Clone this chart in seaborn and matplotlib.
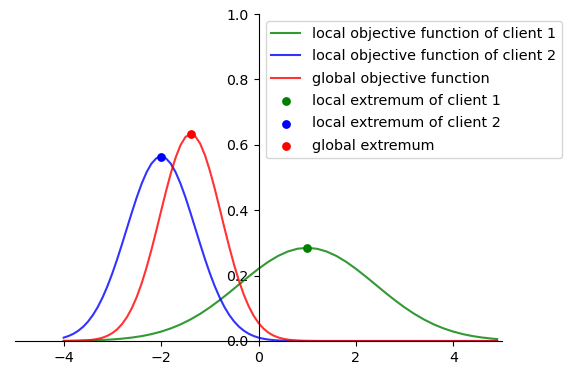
import matplotlib
matplotlib.use("Agg")
import matplotlib.pyplot as plt
import seaborn as sns

# client 1 (broad curve) sampled every 0.2
x_c1 = [-4.0, -3.8, -3.6, -3.4, -3.2, -3.0, -2.8, -2.6, -2.4, -2.2,
        -2.0, -1.8, -1.6, -1.4, -1.2, -1.0, -0.8, -0.6, -0.4, -0.2,
        0.0, 0.2, 0.4, 0.6, 0.8, 1.0, 1.2, 1.4, 1.6, 1.8,
        2.0, 2.2, 2.4, 2.6, 2.8, 3.0, 3.2, 3.4, 3.6, 3.8,
        4.0, 4.2, 4.4, 4.6, 4.8, 4.9]
client1_vals = [0.0005, 0.0008, 0.0013, 0.0020, 0.0032, 0.0048, 0.0072, 0.0105, 0.0149, 0.0209,
                0.0287, 0.0386, 0.0508, 0.0656, 0.0829, 0.1027, 0.1247, 0.1483, 0.1729, 0.1974,
                0.2208, 0.2421, 0.2600, 0.2736, 0.2821, 0.2850, 0.2821, 0.2736, 0.2600, 0.2421,
                0.2208, 0.1974, 0.1729, 0.1483, 0.1247, 0.1027, 0.0829, 0.0656, 0.0508, 0.0386,
                0.0287, 0.0209, 0.0149, 0.0105, 0.0072, 0.0059]

# client 2 and global (narrow curves) sampled every 0.1 where non-zero
x_narrow = [-4.0, -3.9, -3.8, -3.7, -3.6, -3.5, -3.4, -3.3, -3.2, -3.1,
            -3.0, -2.9, -2.8, -2.7, -2.6, -2.5, -2.4, -2.3, -2.2, -2.1,
            -2.0, -1.9, -1.8, -1.7, -1.6, -1.5, -1.4, -1.3, -1.2, -1.1,
            -1.0, -0.9, -0.8, -0.7, -0.6, -0.5, -0.4, -0.3, -0.2, -0.1,
            0.0, 0.1, 0.2, 0.3, 0.4, 0.5, 0.6, 0.7, 0.8, 0.9,
            1.0, 1.1, 1.2, 1.3, 1.4, 2.0, 3.0, 4.0, 4.9]
client2_vals = [0.0103, 0.0153, 0.0221, 0.0314, 0.0436, 0.0595, 0.0795, 0.1041, 0.1337, 0.1682,
                0.2076, 0.2510, 0.2975, 0.3456, 0.3936, 0.4394, 0.4808, 0.5156, 0.5421, 0.5586,
                0.5642, 0.5586, 0.5421, 0.5156, 0.4808, 0.4394, 0.3936, 0.3456, 0.2975, 0.2510,
                0.2076, 0.1682, 0.1337, 0.1041, 0.0795, 0.0595, 0.0436, 0.0314, 0.0221, 0.0153,
                0.0103, 0.0069, 0.0045, 0.0028, 0.0018, 0.0011, 0.0007, 0.0004, 0.0002, 0.0001,
                0.0001, 0.0, 0.0, 0.0, 0.0, 0.0, 0.0, 0.0, 0.0]
global_vals = [0.0001, 0.0002, 0.0004, 0.0008, 0.0014, 0.0023, 0.0039, 0.0065, 0.0103, 0.0161,
               0.0244, 0.0361, 0.0521, 0.0734, 0.1007, 0.1348, 0.1760, 0.2241, 0.2781, 0.3367,
               0.3974, 0.4574, 0.5132, 0.5617, 0.5994, 0.6238, 0.6329, 0.6263, 0.6043, 0.5686,
               0.5216, 0.4667, 0.4071, 0.3463, 0.2873, 0.2324, 0.1833, 0.1410, 0.1057, 0.0773,
               0.0552, 0.0383, 0.0260, 0.0172, 0.0111, 0.0070, 0.0043, 0.0026, 0.0015, 0.0008,
               0.0005, 0.0003, 0.0001, 0.0001, 0.0, 0.0, 0.0, 0.0, 0.0]

extrema_x = [1.0, -2.0, -1.392]
extrema_y = [0.285, 0.5642, 0.633]

line_labels = ["local objective function of client 1",
               "local objective function of client 2",
               "global objective function"]
point_labels = ["local extremum of client 1",
                "local extremum of client 2",
                "global extremum"]
colors = ["green", "blue", "red"]
x_ticks = [-4, -2, 0, 2, 4]
y_ticks = [0.0, 0.2, 0.4, 0.6, 0.8, 1.0]

W, H = 571, 375
DPI = 100
fig = plt.figure(figsize=(W / DPI, H / DPI), dpi=DPI)
ax = fig.add_axes([15 / W, 1 - 341 / H, 487 / W, 327 / H])

series = [(x_c1, client1_vals), (x_narrow, client2_vals), (x_narrow, global_vals)]
for (xs, ys), lab, c in zip(series, line_labels, colors):
    sns.lineplot(x=xs, y=ys, ax=ax, color=c, alpha=0.8, linewidth=1.5,
                 label=lab, estimator=None, sort=False)

for xv, yv, lab, c in zip(extrema_x, extrema_y, point_labels, colors):
    sns.scatterplot(x=[xv], y=[yv], ax=ax, color=c, s=40, linewidth=0, label=lab, zorder=3)

ax.set_xlim(-5, 5)
ax.set_ylim(0, 1)
ax.set_xlabel("")
ax.set_ylabel("")
ax.spines["left"].set_position(("data", 0))
ax.spines["bottom"].set_position(("data", 0))
ax.spines["top"].set_visible(False)
ax.spines["right"].set_visible(False)
ax.set_xticks(x_ticks)
ax.set_yticks(y_ticks)
ax.tick_params(labelsize=10.2)

ax.legend(loc="upper left", bbox_to_anchor=(0.5, 1.0), fontsize=10.35, labelspacing=0.58)

fig.savefig("out.png", dpi=DPI)
